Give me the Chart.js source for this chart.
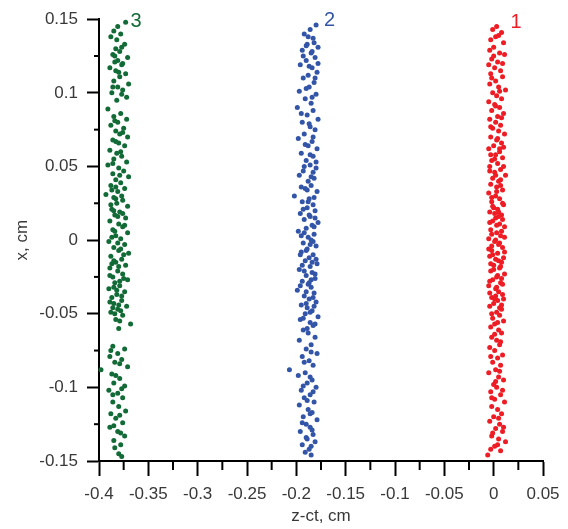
<!DOCTYPE html>
<html>
<head>
<meta charset="utf-8">
<script src="https://cdn.jsdelivr.net/npm/chart.js@4"></script>
<style>
  body { margin: 0; background: #fff; }
  #wrap { width: 568px; height: 529px; }
</style>
</head>
<body>
<div id="wrap"><canvas id="chart"></canvas></div>
<script>
// Axis ranges and tick step
const zRange = [-0.4, 0.05];
const xRange = [-0.15, 0.15];
const tickStep = 0.05;

// Series names (drawn as labels over each column)
const seriesNames = ["1", "2", "3"];

// Series 1 (red), [z-ct, x] in cm
const series1 = [
  [0.003,0.145],[-0.001,0.143],[0.008,0.141],[0.002,0.138],[-0.003,0.136],[0.010,0.134],[0.000,0.131],[-0.004,0.129],
  [0.006,0.127],[0.011,0.126],[-0.002,0.123],[0.004,0.121],[-0.005,0.119],[0.001,0.117],[0.007,0.115],[-0.003,0.113],
  [0.009,0.111],[0.002,0.108],[-0.004,0.106],[0.005,0.104],[0.012,0.102],[-0.001,0.100],[0.003,0.098],[0.008,0.096],
  [-0.005,0.094],[0.001,0.092],[0.006,0.090],[-0.002,0.088],[0.010,0.086],[0.004,0.084],[-0.004,0.082],[0.002,0.080],
  [0.007,0.078],[-0.001,0.076],[0.005,0.074],[0.011,0.072],[-0.003,0.070],[0.003,0.068],[0.008,0.066],[0.000,0.064],
  [-0.005,0.062],[0.006,0.060],[0.002,0.058],[0.009,0.056],[-0.002,0.054],[0.004,0.052],[-0.004,0.050],[0.007,0.048],
  [0.001,0.046],[0.012,0.044],[-0.001,0.042],[0.005,0.040],[-0.003,0.038],[0.003,0.036],[0.009,0.034],[-0.005,0.032],
  [0.002,0.030],[0.006,0.028],[-0.002,0.026],[0.010,0.024],[0.000,0.022],[0.004,0.021],[-0.004,0.019],[0.008,0.017],
  [0.002,0.015],[-0.001,0.013],[0.006,0.011],[0.011,0.009],[-0.003,0.007],[0.003,0.005],[0.007,0.003],[-0.005,0.001],
  [0.001,-0.001],[0.005,-0.003],[0.009,-0.005],[-0.002,-0.007],[0.004,-0.009],[-0.004,-0.011],[0.002,-0.013],[0.008,-0.015],
  [0.000,-0.017],[0.006,-0.019],[-0.003,-0.021],[0.011,-0.023],[0.003,-0.025],[-0.001,-0.027],[0.007,-0.029],[-0.005,-0.031],
  [0.002,-0.033],[0.005,-0.035],[0.009,-0.037],[-0.002,-0.039],[0.004,-0.041],[0.000,-0.043],[-0.004,-0.045],[0.008,-0.047],
  [0.003,-0.049],[0.006,-0.051],[-0.001,-0.053],[0.010,-0.055],[0.001,-0.057],[-0.003,-0.059],[0.005,-0.061],[0.008,-0.063],
  [-0.002,-0.066],[0.003,-0.068],[0.006,-0.071],[-0.004,-0.073],[0.001,-0.075],[0.009,-0.078],[0.004,-0.080],[-0.001,-0.083],
  [0.007,-0.085],[0.002,-0.088],[-0.005,-0.090],[0.005,-0.093],[0.010,-0.095],[0.000,-0.098],[0.003,-0.100],[-0.003,-0.103],
  [0.007,-0.105],[0.001,-0.108],[0.011,-0.110],[-0.002,-0.113],[0.004,-0.115],[0.008,-0.118],[0.000,-0.120],[-0.004,-0.123],
  [0.006,-0.125],[0.002,-0.128],[0.009,-0.130],[-0.002,-0.133],[0.005,-0.135],[0.012,-0.137],[0.001,-0.140],[-0.003,-0.142],
  [0.007,-0.143],[-0.006,-0.146],
  [0.001,0.018],[0.009,0.014],[-0.002,0.004],[0.006,-0.002],[0.010,-0.012],[-0.003,-0.016],[0.004,-0.024],[0.009,-0.030],
  [-0.004,-0.036],[0.001,-0.040],[0.006,0.062],[-0.003,0.058],[0.010,0.050],[0.003,0.010],[-0.005,-0.006],[0.008,-0.044],
  [0.005,0.139],[0.000,0.125],[0.009,0.120],[-0.002,0.110],[0.006,0.101],[0.002,0.091],[0.008,0.083],[-0.003,0.077],
  [0.004,0.069],[0.010,0.063],[0.001,0.055],[-0.004,0.047],[0.007,0.041],[0.003,0.033],[-0.002,0.029],[0.009,0.025],
  [0.005,0.019],[-0.004,0.012],[0.008,0.006],[0.002,0.000],[-0.002,-0.004],[0.011,-0.008],[0.005,-0.014],[0.000,-0.020],
  [0.008,-0.026],[-0.004,-0.028],[0.003,-0.032],[0.010,-0.040],[0.006,-0.046],[-0.002,-0.050],[0.004,-0.056],[0.001,-0.064],
  [0.007,-0.069],[-0.003,-0.079],[0.006,-0.089],[0.002,-0.096],[0.009,-0.102],[-0.002,-0.107],[0.005,-0.121],[0.010,-0.127],
  [-0.001,-0.131],[0.004,-0.139],[0.002,0.044],[0.007,0.037],[-0.001,0.023],[0.005,0.016],[0.011,0.002],[-0.001,-0.010],
  [0.007,-0.018],[0.002,-0.038]
];

// Series 2 (blue)
const series2 = [
  [-0.180,0.146],[-0.186,0.143],[-0.192,0.140],[-0.183,0.137],[-0.189,0.133],[-0.178,0.131],[-0.194,0.129],[-0.185,0.127],
  [-0.181,0.124],[-0.190,0.122],[-0.196,0.119],[-0.184,0.117],[-0.179,0.114],[-0.188,0.112],[-0.193,0.110],[-0.182,0.107],
  [-0.187,0.104],[-0.197,0.101],[-0.180,0.099],[-0.191,0.096],[-0.185,0.093],[-0.199,0.090],[-0.183,0.088],[-0.189,0.085],
  [-0.178,0.082],[-0.194,0.080],[-0.186,0.077],[-0.181,0.075],[-0.192,0.072],[-0.198,0.069],[-0.184,0.067],[-0.188,0.064],
  [-0.179,0.062],[-0.195,0.059],[-0.183,0.057],[-0.190,0.054],[-0.186,0.051],[-0.180,0.049],[-0.193,0.047],[-0.197,0.044],
  [-0.182,0.042],[-0.188,0.040],[-0.185,0.037],[-0.191,0.035],[-0.179,0.033],[-0.202,0.030],[-0.187,0.028],[-0.194,0.026],
  [-0.183,0.024],[-0.189,0.022],[-0.181,0.020],[-0.196,0.018],[-0.186,0.016],[-0.192,0.014],[-0.178,0.012],[-0.184,0.010],
  [-0.190,0.008],[-0.198,0.006],[-0.182,0.004],[-0.188,0.002],[-0.185,0.000],[-0.193,-0.002],[-0.180,-0.004],[-0.189,-0.006],
  [-0.195,-0.008],[-0.183,-0.010],[-0.187,-0.012],[-0.191,-0.014],[-0.179,-0.016],[-0.186,-0.018],[-0.197,-0.020],[-0.184,-0.022],
  [-0.190,-0.024],[-0.181,-0.026],[-0.194,-0.028],[-0.188,-0.030],[-0.185,-0.032],[-0.199,-0.034],[-0.182,-0.036],[-0.192,-0.038],
  [-0.187,-0.040],[-0.180,-0.042],[-0.195,-0.044],[-0.189,-0.046],[-0.184,-0.048],[-0.191,-0.050],[-0.178,-0.052],[-0.196,-0.054],
  [-0.186,-0.056],[-0.183,-0.058],[-0.193,-0.061],[-0.188,-0.063],[-0.181,-0.066],[-0.197,-0.068],[-0.185,-0.071],[-0.190,-0.074],
  [-0.179,-0.077],[-0.194,-0.079],[-0.187,-0.082],[-0.183,-0.085],[-0.207,-0.088],[-0.191,-0.090],[-0.198,-0.092],[-0.184,-0.095],
  [-0.189,-0.097],[-0.180,-0.100],[-0.195,-0.102],[-0.186,-0.105],[-0.192,-0.107],[-0.182,-0.110],[-0.197,-0.112],[-0.188,-0.115],
  [-0.184,-0.117],[-0.193,-0.120],[-0.179,-0.122],[-0.190,-0.125],[-0.186,-0.127],[-0.196,-0.130],[-0.183,-0.132],[-0.189,-0.135],
  [-0.181,-0.137],[-0.194,-0.139],[-0.187,-0.142],[-0.191,-0.144],[-0.185,-0.146],
  [-0.183,0.046],[-0.195,0.036],[-0.181,0.015],[-0.192,0.005],[-0.186,-0.003],[-0.180,-0.013],[-0.194,-0.017],[-0.185,-0.027],
  [-0.190,-0.035],[-0.182,-0.045],[-0.188,0.026],[-0.196,-0.010],[-0.184,0.128],[-0.190,0.132],[-0.178,0.120],
  [-0.188,0.138],[-0.182,0.134],[-0.193,0.125],[-0.187,0.118],[-0.181,0.110],[-0.190,0.103],[-0.184,0.097],[-0.195,0.086],
  [-0.187,0.079],[-0.183,0.070],[-0.191,0.065],[-0.186,0.058],[-0.180,0.053],[-0.192,0.050],[-0.185,0.043],[-0.189,0.034],
  [-0.182,0.029],[-0.193,0.021],[-0.187,0.017],[-0.182,0.009],[-0.195,0.003],[-0.183,-0.001],[-0.190,-0.007],[-0.184,-0.015],
  [-0.192,-0.021],[-0.181,-0.023],[-0.187,-0.029],[-0.196,-0.031],[-0.183,-0.039],[-0.190,-0.043],[-0.186,-0.049],[-0.193,-0.053],
  [-0.181,-0.057],[-0.189,-0.060],[-0.185,-0.076],[-0.192,-0.083],[-0.186,-0.093],[-0.193,-0.099],[-0.183,-0.103],[-0.189,-0.109],
  [-0.186,-0.118],[-0.194,-0.124],[-0.184,-0.129],[-0.190,-0.134],[-0.185,-0.140]
];

// Series 3 (green)
const series3 = [
  [-0.373,0.148],[-0.381,0.145],[-0.385,0.142],[-0.378,0.140],[-0.388,0.138],[-0.374,0.133],[-0.383,0.130],[-0.379,0.128],
  [-0.386,0.126],[-0.371,0.124],[-0.381,0.122],[-0.376,0.120],[-0.389,0.117],[-0.383,0.115],[-0.373,0.113],[-0.379,0.111],
  [-0.385,0.108],[-0.370,0.106],[-0.381,0.104],[-0.376,0.102],[-0.387,0.100],[-0.372,0.097],[-0.382,0.095],[-0.391,0.089],
  [-0.378,0.086],[-0.385,0.084],[-0.372,0.082],[-0.381,0.080],[-0.388,0.078],[-0.375,0.076],[-0.383,0.074],[-0.379,0.072],
  [-0.371,0.070],[-0.386,0.068],[-0.380,0.066],[-0.374,0.064],[-0.389,0.061],[-0.382,0.059],[-0.377,0.057],[-0.385,0.055],
  [-0.372,0.053],[-0.391,0.051],[-0.380,0.049],[-0.375,0.047],[-0.386,0.045],[-0.370,0.043],[-0.383,0.041],[-0.378,0.039],
  [-0.388,0.037],[-0.374,0.035],[-0.381,0.033],[-0.393,0.031],[-0.385,0.029],[-0.376,0.027],[-0.382,0.025],[-0.371,0.023],
  [-0.387,0.021],[-0.379,0.019],[-0.384,0.017],[-0.373,0.015],[-0.389,0.013],[-0.380,0.011],[-0.376,0.009],[-0.386,0.007],
  [-0.371,0.005],[-0.383,0.003],[-0.378,0.001],[-0.390,-0.001],[-0.374,-0.003],[-0.385,-0.005],[-0.380,-0.007],[-0.370,-0.009],
  [-0.388,-0.011],[-0.377,-0.013],[-0.383,-0.015],[-0.373,-0.017],[-0.389,-0.019],[-0.381,-0.021],[-0.376,-0.023],[-0.386,-0.025],
  [-0.371,-0.027],[-0.384,-0.029],[-0.379,-0.031],[-0.390,-0.033],[-0.374,-0.035],[-0.382,-0.037],[-0.387,-0.039],[-0.377,-0.041],
  [-0.385,-0.043],[-0.372,-0.045],[-0.381,-0.047],[-0.388,-0.049],[-0.376,-0.051],[-0.383,-0.054],[-0.368,-0.057],[-0.380,-0.060],
  [-0.386,-0.072],[-0.374,-0.074],[-0.381,-0.077],[-0.389,-0.079],[-0.377,-0.081],[-0.384,-0.083],[-0.398,-0.088],[-0.371,-0.086],
  [-0.387,-0.091],[-0.379,-0.094],[-0.385,-0.097],[-0.374,-0.099],[-0.390,-0.102],[-0.381,-0.104],[-0.376,-0.107],[-0.386,-0.110],
  [-0.380,-0.113],[-0.373,-0.116],[-0.388,-0.118],[-0.383,-0.121],[-0.376,-0.124],[-0.389,-0.127],[-0.381,-0.130],[-0.374,-0.133],
  [-0.385,-0.136],[-0.378,-0.139],[-0.380,-0.145],[-0.377,-0.147],
  [-0.387,0.034],[-0.383,0.028],[-0.376,0.018],[-0.384,0.006],[-0.378,-0.006],[-0.387,-0.016],[-0.375,-0.026],[-0.382,-0.034],
  [-0.386,-0.046],[-0.378,-0.048],[-0.384,0.125],[-0.377,0.119],[-0.385,0.020],
  [-0.382,0.136],[-0.377,0.131],[-0.384,0.121],[-0.380,0.114],[-0.386,0.104],[-0.377,0.099],[-0.384,0.081],[-0.376,0.073],
  [-0.383,0.067],[-0.378,0.060],[-0.386,0.052],[-0.379,0.044],[-0.383,0.036],[-0.377,0.030],[-0.388,0.024],[-0.381,0.016],
  [-0.374,0.010],[-0.387,0.002],[-0.381,-0.002],[-0.375,-0.010],[-0.385,-0.014],[-0.380,-0.018],[-0.389,-0.024],[-0.379,-0.028],
  [-0.385,-0.032],[-0.377,-0.038],[-0.389,-0.042],[-0.380,-0.044],[-0.384,-0.050],[-0.379,-0.055],[-0.388,-0.075],[-0.379,-0.084],
  [-0.383,-0.092],[-0.377,-0.101],[-0.386,-0.105],[-0.379,-0.119],[-0.385,-0.126],[-0.378,-0.131],[-0.384,-0.141]
];

const colors = ["#ee1c24", "#3355a8", "#126b36"];
// where the "1", "2", "3" labels sit, in data units
const nameAnchors = [[0.0226, 0.148], [-0.1664, 0.1493], [-0.3624, 0.1486]];

const toXY = (arr) => arr.map((p) => ({ x: p[0], y: p[1] }));

// draws the short minor ticks between the labelled ones
const minorTicks = {
    id: "minorTicks",
    afterDraw(chart) {
        const ctx = chart.ctx;
        ctx.save();
        ctx.strokeStyle = "#000";
        ctx.lineWidth = 2;
        ["x", "y"].forEach((id) => {
            const s = chart.scales[id];
            const len = id === "x" ? 9 : 5;
            for (let i = 0; i < s.ticks.length - 1; i++) {
                const v = (s.ticks[i].value + s.ticks[i + 1].value) / 2;
                const p = s.getPixelForValue(v);
                ctx.beginPath();
                if (id === "x") {
                    ctx.moveTo(p, s.top);
                    ctx.lineTo(p, s.top + len);
                } else {
                    ctx.moveTo(s.right, p);
                    ctx.lineTo(s.right - len, p);
                }
                ctx.stroke();
            }
        });
        ctx.restore();
    },
};

// series numbers over the columns
const seriesLabels = {
    id: "seriesLabels",
    afterDatasetsDraw(chart) {
        const ctx = chart.ctx;
        ctx.save();
        ctx.font = "20px 'Liberation Sans', Arial, sans-serif";
        ctx.textAlign = "center";
        ctx.textBaseline = "middle";
        seriesNames.forEach((name, i) => {
            ctx.fillStyle = colors[i];
            ctx.fillText(
                name,
                chart.scales.x.getPixelForValue(nameAnchors[i][0]),
                chart.scales.y.getPixelForValue(nameAnchors[i][1])
            );
        });
        ctx.restore();
    },
};

const tickFont = { family: "'Liberation Sans', Arial, sans-serif", size: 17 };
const fmt = (v) => String(Number(v.toFixed(3)));

new Chart(document.getElementById("chart"), {
    type: "scatter",
    data: {
        datasets: [series1, series2, series3].map((s, i) => ({
            label: seriesNames[i],
            data: toXY(s),
            backgroundColor: colors[i],
            borderWidth: 0,
            pointRadius: 2.5,
            clip: false,
        })),
    },
    options: {
        responsive: true,
        maintainAspectRatio: false,
        animation: false,
        layout: { padding: { top: 17, right: 25, left: 0, bottom: 0 } },
        plugins: { legend: { display: false }, tooltip: { enabled: false } },
        scales: {
            x: {
                min: zRange[0],
                max: zRange[1],
                afterFit: (s) => { s.height = 68; },
                border: { display: true, color: "#000", width: 2 },
                grid: { drawOnChartArea: false, drawTicks: true, tickLength: 15, tickWidth: 2, tickColor: "#000" },
                ticks: { stepSize: tickStep, padding: 8, color: "#383838", font: tickFont, maxRotation: 0, callback: fmt },
                title: { display: true, text: "z-ct, cm", color: "#383838", font: tickFont, padding: { top: 0, bottom: 2 } },
            },
            y: {
                min: xRange[0],
                max: xRange[1],
                afterFit: (s) => { s.width = 99; },
                border: { display: true, color: "#000", width: 2 },
                grid: { drawOnChartArea: false, drawTicks: true, tickLength: 12, tickWidth: 2, tickColor: "#000" },
                ticks: { stepSize: tickStep, padding: 9, color: "#383838", font: tickFont, callback: fmt },
                title: { display: true, text: "x, cm", color: "#383838", font: tickFont, padding: { top: 12, bottom: 0 } },
            },
        },
    },
    plugins: [minorTicks, seriesLabels],
});
</script>
</body>
</html>
